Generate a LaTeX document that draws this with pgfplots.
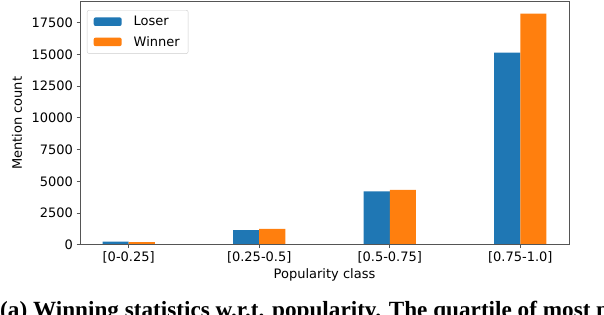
\documentclass[border=0pt]{standalone}
\usepackage{fontspec}
\setmainfont{DejaVu Sans}
\newfontfamily\capfont{Liberation Serif}
\usepackage{pgfplots}
\pgfplotsset{compat=1.18}
\definecolor{tabblue}{HTML}{1F77B4}
\definecolor{taborange}{HTML}{FF7F0E}
\definecolor{spine}{HTML}{555555}
\begin{document}
\begin{tikzpicture}[x=1pt,y=1pt]
\useasboundingbox (0,0) rectangle (604,314);
\clip (0,0) rectangle (604,314);
\begin{axis}[
  at={(80pt,69.3pt)}, anchor=south west,
  scale only axis, width=489pt, height=242.7pt,
  xmin=-0.373, xmax=3.373, ymin=0, ymax=19130,
  ybar, bar width=0.2,
  legend image code/.code={\fill[#1] (0pt,-4.3pt) rectangle (28pt,4.3pt);},
  xtick={0,1,2,3},
  xticklabels={{[0-0.25]},{[0.25-0.5]},{[0.5-0.75]},{[0.75-1.0]}},
  ytick={0,2500,5000,7500,10000,12500,15000,17500},
  scaled y ticks=false,
  yticklabel style={/pgf/number format/.cd, 1000 sep={}, assume math mode=true},
  tick label style={font=\fontsize{13}{13}\selectfont},
  label style={font=\fontsize{13}{13}\selectfont},
  tick align=outside, major tick length=3.5pt,
  xtick pos=bottom, ytick pos=left,
  axis line style={spine, line width=1pt},
  tick style={spine, line width=0.9pt},
  axis on top,
  xlabel={Popularity class},
  ylabel={Mention count},
  xlabel style={at={(axis description cs:0.5,-0.1384)}, anchor=base},
  ylabel style={at={(axis description cs:-0.1288,0.5)}, anchor=center},
  legend entries={Loser, Winner},
  legend cell align=left,
  legend style={at={(0.0143,0.967)}, anchor=north west,
    draw=black!20, rounded corners=2pt, fill=white,
    font=\fontsize{13}{13}\selectfont,
    inner xsep=6.5pt, inner ysep=4pt, row sep=5pt, column sep=10pt},
]
\addplot[fill=tabblue, draw=none, bar shift=-0.1] coordinates {(0,250) (1,1159) (2,4211) (3,15142)};
\addplot[fill=taborange, draw=none, bar shift=0.1] coordinates {(0,205) (1,1238) (2,4314) (3,18218)};
\end{axis}
\node[anchor=base west, inner sep=0pt, font=\capfont\bfseries\fontsize{23.2}{23.2}\selectfont] at (0,-3)
  {(a) Winning statistics w.r.t. popularity. The quartile of most popular};
\end{tikzpicture}
\end{document}
